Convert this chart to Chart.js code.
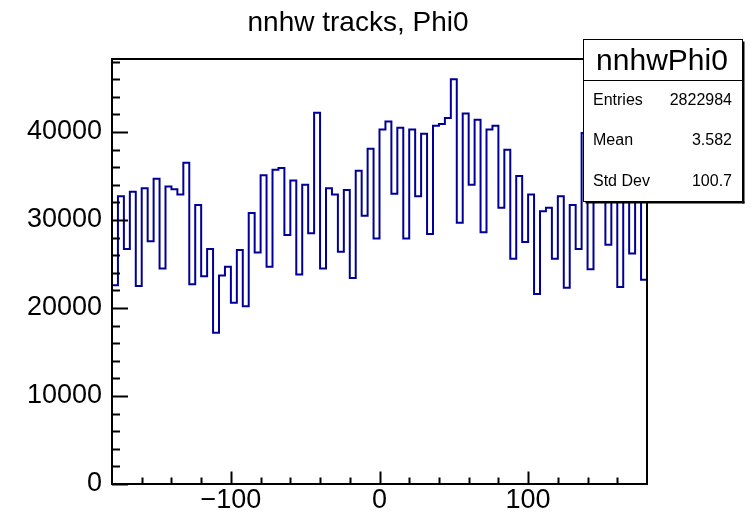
<!DOCTYPE html>
<html>
<head>
<meta charset="utf-8">
<script src="https://cdn.jsdelivr.net/npm/chart.js@4.4.1/dist/chart.umd.min.js"></script>
<style>
  html, body { margin: 0; padding: 0; background: #fff; }
</style>
</head>
<body>
<canvas id="c" width="754" height="514"></canvas>
<script>
// nnhw tracks, Phi0 — ROOT-style step histogram, 90 bins over [-180, 180]

const title = 'nnhw tracks, Phi0';
const histName = 'nnhwPhi0';
const xMin = -180;
const xMax = 180;
const counts = [
  22600, 32700, 26700, 33200, 22500, 33600, 27600, 34700, 24500, 33800,
  33500, 32900, 36500, 22700, 31700, 23600, 26700, 17200, 23700, 24700,
  20600, 26600, 20200, 30800, 26300, 35100, 24700, 35700, 35900, 28300,
  34500, 23800, 34000, 28500, 42200, 24500, 33600, 32900, 26400, 33400,
  23400, 35600, 30500, 38100, 27900, 40300, 41200, 33000, 40500, 27900,
  40300, 32700, 39800, 28400, 40700, 40900, 41600, 46000, 29700, 42100,
  34000, 41400, 28600, 40300, 40700, 31400, 38000, 25600, 35000, 27500,
  32900, 21600, 31000, 31400, 25600, 32700, 22300, 31700, 26700, 39900,
  24400, 36500, 34500, 27200, 35800, 22400, 33800, 26200, 35200, 23200,
];
const xTicks = [-100, 0, 100];
const yTicks = [0, 10000, 20000, 30000, 40000];
const statLabels = ['Entries', 'Mean', 'Std Dev'];
const statValues = ['2822984', '3.582', '100.7'];

const FONT = '"Liberation Sans", Arial, Helvetica, sans-serif';
const LINE = '#000099';

const binWidth = (xMax - xMin) / counts.length;
const points = counts.map((v, i) => ({ x: xMin + i * binWidth, y: v }));
points.push({ x: xMax, y: counts[counts.length - 1] });
const yTop = Math.max(...counts) * 1.05;

// frame + inward ticks + title, like ROOT
const framePlugin = {
  id: 'rootFrame',
  afterDatasetsDraw(chart) {
    const { ctx, chartArea: a, scales } = chart;
    ctx.save();
    ctx.strokeStyle = '#000';
    ctx.lineWidth = 2;
    ctx.strokeRect(a.left, a.top, a.right - a.left, a.bottom - a.top);

    ctx.beginPath();
    for (let v = 0; v <= yTop; v += 2000) {
      const y = Math.round(scales.y.getPixelForValue(v)) + 0.5;
      const len = v % 10000 === 0 ? 16 : 8;
      ctx.moveTo(a.left, y);
      ctx.lineTo(a.left + len, y);
    }
    for (let v = -160; v <= 160; v += 20) {
      const x = Math.round(scales.x.getPixelForValue(v)) + 0.5;
      const len = v % 100 === 0 ? 12.5 : 6.5;
      ctx.moveTo(x, a.bottom);
      ctx.lineTo(x, a.bottom - len);
    }
    ctx.stroke();

    ctx.fillStyle = '#000';
    ctx.font = `28px ${FONT}`;
    ctx.textAlign = 'center';
    ctx.textBaseline = 'alphabetic';
    ctx.fillText(title, 358, 31);
    ctx.restore();
  },
};

// statistics box, top right
const statsPlugin = {
  id: 'statsBox',
  afterDraw(chart) {
    const { ctx } = chart;
    const left = 583.5, top = 39.5, w = 159, h = 162;
    ctx.save();
    ctx.fillStyle = '#fff';
    ctx.fillRect(left, top, w, h);
    ctx.strokeStyle = '#000';
    ctx.lineWidth = 1;
    ctx.strokeRect(left, top, w, h);
    ctx.fillStyle = '#000';
    ctx.fillRect(left + w, top + 2, 2, h);
    ctx.fillRect(left + 2, top + h, w, 2);
    ctx.beginPath();
    ctx.moveTo(left, 80.5);
    ctx.lineTo(left + w, 80.5);
    ctx.stroke();

    ctx.textBaseline = 'alphabetic';
    ctx.font = `30px ${FONT}`;
    ctx.textAlign = 'center';
    ctx.fillText(histName, left + w / 2 - 1, 70);

    ctx.textBaseline = 'middle';
    ctx.font = `16px ${FONT}`;
    const rows = [101, 141, 182];
    statLabels.forEach((lab, i) => {
      ctx.textAlign = 'left';
      ctx.fillText(lab, 593, rows[i]);
      ctx.textAlign = 'right';
      ctx.fillText(statValues[i], 732, rows[i]);
    });
    ctx.restore();
  },
};

new Chart(document.getElementById('c'), {
  type: 'line',
  data: {
    datasets: [
      {
        data: points,
        stepped: 'before',
        borderColor: LINE,
        borderWidth: 2,
        pointRadius: 0,
        fill: false,
      },
    ],
  },
  plugins: [framePlugin, statsPlugin],
  options: {
    responsive: false,
    animation: false,
    events: [],
    layout: { padding: { top: 59, right: 107, left: 0, bottom: 0 } },
    plugins: {
      legend: { display: false },
      tooltip: { enabled: false },
      title: { display: false },
    },
    scales: {
      x: {
        type: 'linear',
        min: xMin,
        max: xMax,
        grid: { display: false, drawTicks: false },
        border: { display: false },
        afterBuildTicks: (s) => { s.ticks = xTicks.map((value) => ({ value })); },
        afterFit: (s) => { s.height = 30; },
        ticks: {
          color: '#000',
          padding: 0,
          maxRotation: 0,
          autoSkip: false,
          font: { family: FONT, size: 27 },
          callback: (v) => String(v).replace('-', '\u2212'),
        },
      },
      y: {
        min: 0,
        max: yTop,
        grid: { display: false, drawTicks: false },
        border: { display: false },
        afterBuildTicks: (s) => { s.ticks = yTicks.map((value) => ({ value })); },
        afterFit: (s) => { s.width = 112; },
        ticks: {
          color: '#000',
          padding: 10,
          autoSkip: false,
          font: { family: FONT, size: 27 },
          callback: (v) => String(v),
        },
      },
    },
  },
});
</script>
</body>
</html>
